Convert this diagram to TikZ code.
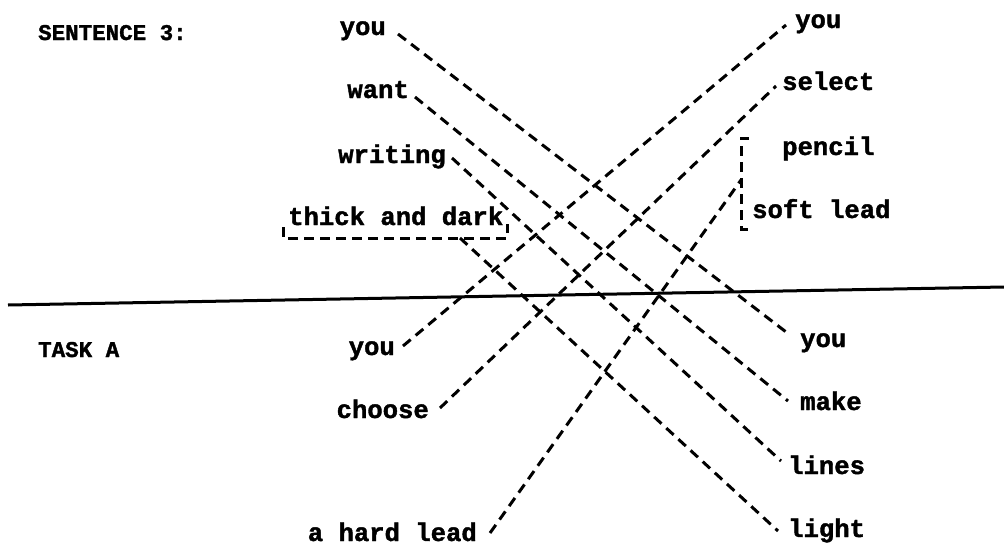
\documentclass[tikz,border=0pt]{standalone}
\usepackage{fontspec}
\newfontfamily\tw{Liberation Mono Bold}[FakeBold=1.5]
\begin{document}
\begin{tikzpicture}[x=1pt,y=-1pt,
  lbl/.style={font=\tw\fontsize{25.6}{30}\selectfont, inner sep=0pt},
  head/.style={font=\tw\fontsize{22.5}{27}\selectfont, inner sep=0pt, anchor=base west},
  link/.style={line width=3pt, dash pattern=on 10pt off 6.5pt},
  brk/.style={line width=3pt, dash pattern=on 10pt off 6pt}]
\useasboundingbox (0,0) rectangle (1004,549);
% headings
\node[head] (sent) at (38,40) {SENTENCE 3:};
\node[head] (task) at (38,357) {TASK A};
% separator
\coordinate (sepL) at (8,305);
\coordinate (sepR) at (1004,287);
\draw[line width=3pt] (sepL) -- (sepR);
% top-left words
\node[lbl, anchor=base east] (tlyou) at (386,35) {you};
\node[lbl, anchor=base east] (tlwant) at (409,98) {want};
\node[lbl, anchor=base east] (tlwriting) at (446,163) {writing};
\node[lbl, anchor=base west] (tlthick) at (288,225) {thick and dark};
% top-right words
\node[lbl, anchor=base west] (tryou) at (795,28) {you};
\node[lbl, anchor=base west] (trselect) at (782,90) {select};
\node[lbl, anchor=base west] (trpencil) at (782,155) {pencil};
\node[lbl, anchor=base west] (trsoft) at (752,218) {soft lead};
% bottom-left words
\node[lbl, anchor=base east] (blyou) at (395,355) {you};
\node[lbl, anchor=base east] (blchoose) at (429,418) {choose};
\node[lbl, anchor=base east] (blhard) at (477,541) {a hard lead};
% bottom-right words
\node[lbl, anchor=base west] (bryou) at (800,347) {you};
\node[lbl, anchor=base west] (brmake) at (800,410) {make};
\node[lbl, anchor=base west] (brlines) at (788,474) {lines};
\node[lbl, anchor=base west] (brlight) at (788,537) {light};
% brackets
\coordinate (tbL) at (283,227);
\coordinate (tbBL) at (283,238);
\coordinate (tbBR) at (507,238);
\coordinate (tbR) at (507,224);
\draw[brk] (tbL) -- (tbBL) -- (tbBR) -- (tbR);
\coordinate (pbT) at (749,138);
\coordinate (pbTL) at (741,138);
\coordinate (pbBL) at (741,229);
\coordinate (pbB) at (751,229);
\draw[brk] (pbT) -- (pbTL) -- (pbBL) -- (pbB);
% connector ports
\coordinate (p1a) at (398,34);
\coordinate (p1b) at (790,335);
\coordinate (p2a) at (415,97);
\coordinate (p2b) at (788,401);
\coordinate (p3a) at (452,158);
\coordinate (p3b) at (781,461);
\coordinate (p4a) at (460,238);
\coordinate (p4b) at (778,531);
\coordinate (p5a) at (403,346);
\coordinate (p5b) at (786,25);
\coordinate (p6a) at (440,408);
\coordinate (p6b) at (776,86);
\coordinate (p7a) at (490,533);
\coordinate (p7b) at (741,180);
% connectors
\draw[link] (p1a) -- (p1b);
\draw[link] (p2a) -- (p2b);
\draw[link] (p3a) -- (p3b);
\draw[link] (p4a) -- (p4b);
\draw[link] (p5a) -- (p5b);
\draw[link] (p6a) -- (p6b);
\draw[link] (p7a) -- (p7b);
\end{tikzpicture}
\end{document}
